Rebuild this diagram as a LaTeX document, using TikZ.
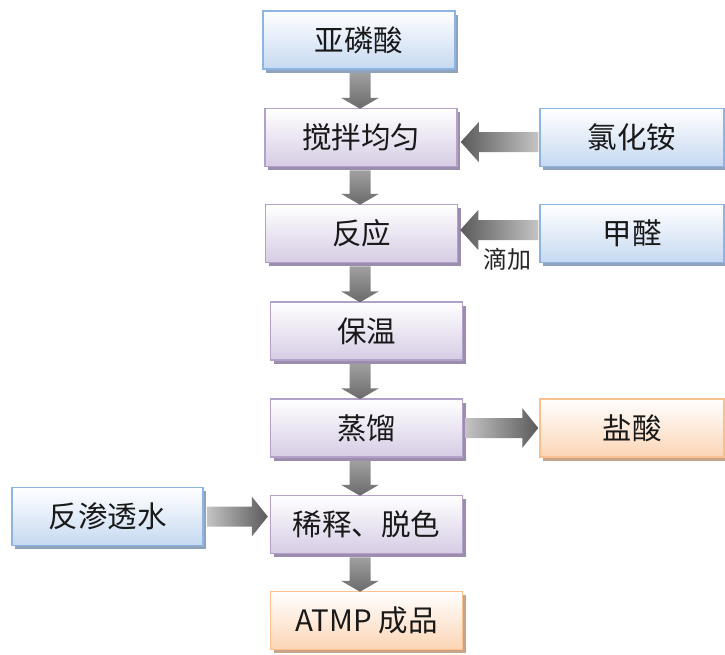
\documentclass[tikz,border=0pt]{standalone}
\usepackage{fontspec}
\setmainfont{Noto Sans CJK SC}
\usetikzlibrary{shadows,calc}
\definecolor{bluebd}{HTML}{8EB4E3}
\definecolor{bluefill}{HTML}{C6D9F1}
\definecolor{blueshd}{HTML}{8FA3BC}
\definecolor{purbd}{HTML}{B3A2C7}
\definecolor{purfill}{HTML}{D6CCE4}
\definecolor{purshd}{HTML}{9C8DAE}
\definecolor{orbd}{HTML}{FAC090}
\definecolor{orfill}{HTML}{FCD5B5}
\definecolor{orshd}{HTML}{C9A489}
\definecolor{arrlight}{HTML}{C4C4C4}
\definecolor{arrdark}{HTML}{5A5A5A}
\definecolor{varrlight}{HTML}{A0A0A0}
\definecolor{varrdark}{HTML}{6A6A6A}
\tikzset{
  box/.style={rectangle, line width=1.5pt, minimum width=192pt, minimum height=58pt,
    inner sep=0pt, font=\fontsize{29.5}{32}\selectfont, text=black!90},
  bluebox/.style={box, draw=bluebd, top color=white, bottom color=bluefill,
    drop shadow={shadow xshift=3pt, shadow yshift=-3.5pt, fill=blueshd, opacity=1}},
  purbox/.style={box, draw=purbd, top color=white, bottom color=purfill,
    drop shadow={shadow xshift=3pt, shadow yshift=-3.5pt, fill=purshd, opacity=1}},
  orbox/.style={box, draw=orbd, top color=white, bottom color=orfill,
    drop shadow={shadow xshift=3pt, shadow yshift=-3.5pt, fill=orshd, opacity=1}},
  note/.style={font=\fontsize{24}{26}\selectfont, text=black!85, inner sep=0pt}
}
\newcommand\vblk[2]{\shade[top color=varrlight, bottom color=varrdark]
  let \p1=(#1), \p2=(#2) in
  (\x1-10.5pt,\y1) -- (\x1-10.5pt,\y2+11pt) -- (\x1-19pt,\y2+11pt) -- (\x1,\y2)
  -- (\x1+19pt,\y2+11pt) -- (\x1+10.5pt,\y2+11pt) -- (\x1+10.5pt,\y1) -- cycle;}
\newcommand\lblk[2]{\shade[left color=arrdark, right color=arrlight]
  let \p1=(#1), \p2=(#2) in
  (\x1,\y1+10pt) -- (\x2+18pt,\y1+10pt) -- (\x2+18pt,\y1+20pt) -- (\x2,\y1)
  -- (\x2+18pt,\y1-20pt) -- (\x2+18pt,\y1-10pt) -- (\x1,\y1-10pt) -- cycle;}
\newcommand\rblk[2]{\shade[left color=arrlight, right color=arrdark]
  let \p1=(#1), \p2=(#2) in
  (\x1,\y1+10pt) -- (\x2-16pt,\y1+10pt) -- (\x2-16pt,\y1+20pt) -- (\x2,\y1)
  -- (\x2-16pt,\y1-20pt) -- (\x2-16pt,\y1-10pt) -- (\x1,\y1-10pt) -- cycle;}
\begin{document}
\begin{tikzpicture}[x=1pt,y=1pt]
\useasboundingbox (0,0) rectangle (725,-654);
\fill[white] (0,0) rectangle (725,-654);
% boxes
\node[bluebox] (A) at (359,-40) {亚磷酸};
\node[purbox]  (B) at (361,-137.5) {搅拌均匀};
\node[bluebox, minimum width=184pt] (C) at (632,-137.5) {氯化铵};
\node[purbox]  (D) at (361.5,-233.5) {反应};
\node[bluebox, minimum width=184pt] (E) at (632,-233.5) {甲醛};
\node[purbox]  (F) at (366.5,-331) {保温};
\node[purbox]  (G) at (366.5,-428) {蒸馏};
\node[orbox, minimum width=184pt]   (H) at (632,-428) {盐酸};
\node[bluebox, minimum width=191pt] (I) at (107.5,-516.5) {反渗透水};
\node[purbox]  (J) at (366.5,-524.5) {稀释、脱色};
\node[orbox]   (K) at (366.5,-620.5) {ATMP 成品};
\node[note] (L) at (507,-259) {滴加};
% arrows
\coordinate (vx) at (360,0);
\vblk{$(A.south -| vx)+(0,-3)$}{$(B.north -| vx)+(0,-1)$}
\vblk{$(B.south -| vx)+(0,-3)$}{$(D.north -| vx)+(0,-1)$}
\vblk{$(D.south -| vx)+(0,-3)$}{$(F.north -| vx)+(0,-1)$}
\vblk{$(F.south -| vx)+(0,-3)$}{$(G.north -| vx)+(0,-1)$}
\vblk{$(G.south -| vx)+(0,-3)$}{$(J.north -| vx)+(0,-1)$}
\vblk{$(J.south -| vx)+(0,-3)$}{$(K.north -| vx)+(0,-1)$}
\lblk{$(C.west)+(-1,-4.5)$}{$(B.east)+(3,-4.5)$}
\lblk{$(E.west)+(-1,3.5)$}{$(D.east)+(2,3.5)$}
\rblk{$(G.east)+(2,0)$}{$(H.west)+(-1,0)$}
\rblk{$(I.east)+(3,0)$}{$(J.west |- I.east)+(-2,0)$}
\end{tikzpicture}
\end{document}
